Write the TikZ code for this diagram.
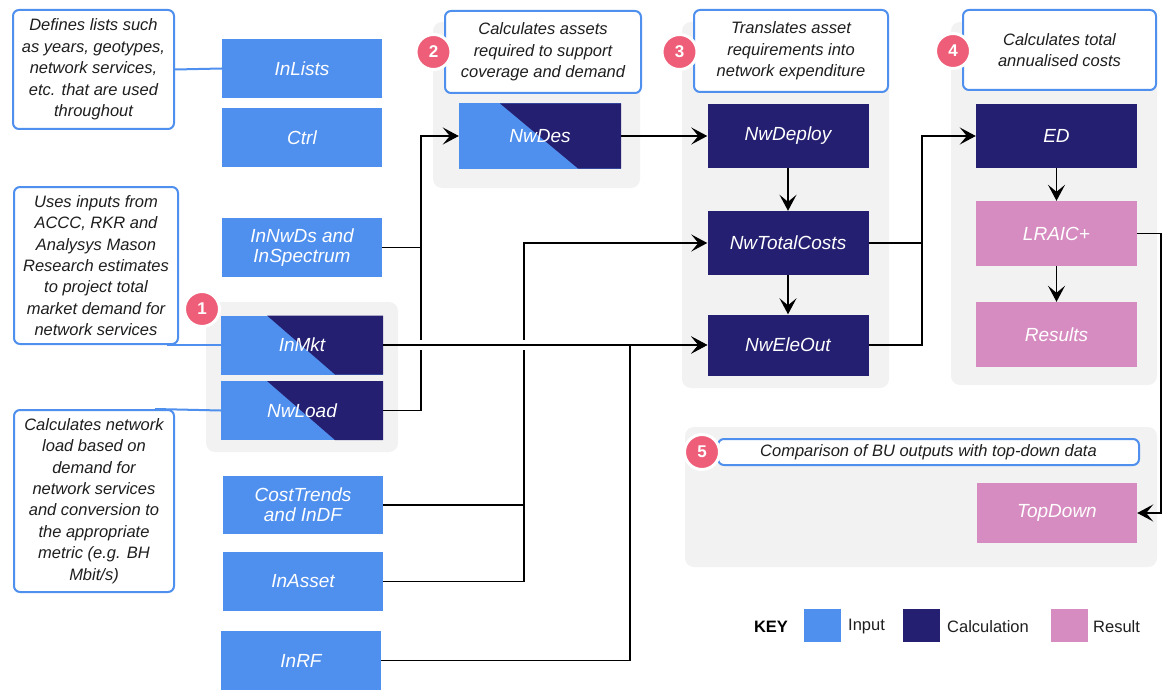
\documentclass[tikz,border=0pt]{standalone}
\usepackage{fontspec}
\setmainfont{Liberation Sans}
\usetikzlibrary{arrows.meta,calc}
\definecolor{inblue}{RGB}{79,143,238}
\definecolor{calcblue}{RGB}{36,31,112}
\definecolor{respink}{RGB}{214,140,192}
\definecolor{badgepink}{RGB}{238,94,120}
\definecolor{grp}{RGB}{242,242,242}
\definecolor{cborder}{RGB}{79,143,238}
\definecolor{txt}{RGB}{30,30,30}
\tikzset{
  box/.style={rectangle, inner sep=0pt, minimum width=160pt, minimum height=59pt, text=white, align=center, font=\fontsize{19}{20}\selectfont\itshape},
  inbox/.style={box, fill=inblue},
  calcbox/.style={box, fill=calcblue},
  resbox/.style={box, fill=respink},
  splitbox/.style 2 args={box, fill=inblue, path picture={\fill[calcblue] ([xshift=#1]path picture bounding box.north west) -- (path picture bounding box.north east) -- (path picture bounding box.south east) -- ([xshift=#2]path picture bounding box.south west) -- cycle;}},
  callout/.style={draw=cborder, line width=2pt, rounded corners=6pt, fill=white, inner sep=0pt, align=center, text=txt, font=\fontsize{16.5}{21.4}\selectfont\itshape},
  group/.style={fill=grp, rounded corners=9pt},
  badge/.style={circle, fill=badgepink, draw=white, line width=3pt, minimum size=35pt, inner sep=0pt, text=white, font=\fontsize{17}{17}\selectfont\bfseries},
  conn/.style={line width=1.6pt, -{Stealth[length=16pt,width=17pt,inset=7pt]}},
  link/.style={line width=1.6pt},
  note/.style={draw=cborder, line width=2pt},
  swatch/.style={rectangle, inner sep=0pt, minimum width=37pt, minimum height=33pt},
  keytext/.style={anchor=west, inner sep=0pt, text=txt, font=\fontsize{16.5}{18}\selectfont},
}
\begin{document}
\begin{tikzpicture}[x=1pt,y=-1pt]
\useasboundingbox (0,0) rectangle (1164,690);

% groups
\fill[group] (206,302) rectangle (398,452);
\fill[group] (433,22) rectangle (640,188);
\fill[group] (682,22) rectangle (889,388);
\fill[group] (951,22) rectangle (1157,385);
\fill[group] (685,427) rectangle (1157,567);

% callouts
\node[callout, minimum width=161pt, minimum height=119pt] (c1) at (93.5,69.5) {Defines lists such\\as years, geotypes,\\network services,\\etc. that are used\\throughout};
\node[callout, minimum width=164pt, minimum height=157pt] (c2) at (96,265.5) {Uses inputs from\\ACCC, RKR and\\Analysys Mason\\Research estimates\\to project total\\market demand for\\network services};
\node[callout, minimum width=160pt, minimum height=182pt] (c3) at (94,501) {Calculates network\\load based on\\demand for\\network services\\and conversion to\\the appropriate\\metric (e.g. BH\\Mbit/s)};
\node[callout, minimum width=196pt, minimum height=82pt] (s2) at (543,52) {Calculates assets\\required to support\\coverage and demand};
\node[callout, minimum width=194pt, minimum height=82pt] (s3) at (791,51) {Translates asset\\requirements into\\network expenditure};
\node[callout, minimum width=193pt, minimum height=80pt] (s4) at (1059.5,50) {Calculates total\\annualised costs};
\node[callout, minimum width=421pt, minimum height=26pt] (s5) at (928.5,452) {Comparison of BU outputs with top-down data};

% badges
\node[badge] (b1n) at (202,309) {1};
\node[badge] (b2n) at (433.5,52) {2};
\node[badge] (b3n) at (679.5,52) {3};
\node[badge] (b4n) at (953,51) {4};
\node[badge] (b5n) at (702,452) {5};

% boxes
\node[inbox] (inlists) at (302,68.5) {InLists};
\node[inbox] (ctrl) at (302,137.5) {Ctrl};
\node[inbox] (innwds) at (302,247.5) {InNwDs and\\InSpectrum};
\node[splitbox={46pt}{114pt}, minimum width=162pt] (inmkt) at (302,345) {InMkt};
\node[splitbox={46pt}{114pt}, minimum width=162pt] (nwload) at (302,410.5) {NwLoad};
\node[inbox, minimum height=58pt] (costtrends) at (303,505) {CostTrends\\and InDF};
\node[inbox] (inasset) at (303,581.5) {InAsset};
\node[inbox] (inrf) at (301,660.5) {InRF};

\node[splitbox={41pt}{119pt}, minimum width=162pt, minimum height=65pt] (nwdes) at (540,136) {NwDes};
\node[calcbox, minimum width=161pt, minimum height=64pt] (nwdeploy) at (788,136) {NwDeploy};
\node[calcbox, minimum width=161pt, minimum height=64pt] (nwtotal) at (788,243) {NwTotalCosts};
\node[calcbox, minimum width=161pt, minimum height=61pt] (nweleout) at (788,345) {NwEleOut};
\node[calcbox, minimum width=161pt, minimum height=64pt] (ed) at (1056.5,136) {ED};
\node[resbox, minimum width=161pt, minimum height=65pt] (lraic) at (1056.5,233.5) {LRAIC+};
\node[resbox, minimum width=161pt, minimum height=65pt] (results) at (1056.5,334.5) {Results};
\node[resbox, minimum width=160pt, minimum height=60pt] (topdown) at (1057,513) {TopDown};

% callout links
\draw[note] (c1.east) -- (inlists.west);
\draw[note] ([xshift=-12pt]c2.south east) -- (inmkt.west);
\draw[note] ([xshift=-20pt]c3.north east) -- (nwload.west);

% bus coordinates
\coordinate (bx1) at (421,0);
\coordinate (bx2) at (524,0);
\coordinate (bx3) at (630,0);
\coordinate (bx4) at (922,0);
\coordinate (bx5) at (1161,0);

% connectors
\draw[conn] (innwds.east) -- (bx1 |- innwds.east) -- (bx1 |- nwdes.west) -- (nwdes.west);
\draw[link] (nwload.east) -- (bx1 |- nwload.east) -- (bx1 |- innwds.east);
\draw[conn] (costtrends.east) -- (bx2 |- costtrends.east) -- (bx2 |- nwtotal.west) -- (nwtotal.west);
\draw[link] (inasset.east) -- (bx2 |- inasset.east) -- (bx2 |- costtrends.east);
% gaps at crossings
\fill[white] ($(bx1 |- inmkt.east)+(-4,-5)$) rectangle ($(bx1 |- inmkt.east)+(4,5)$);
\fill[white] ($(bx2 |- inmkt.east)+(-4,-5)$) rectangle ($(bx2 |- inmkt.east)+(4,5)$);
\draw[conn] (inmkt.east) -- (nweleout.west);
\draw[conn] (inrf.east) -- (bx3 |- inrf.east) -- (bx3 |- nweleout.west) -- (nweleout.west);

\draw[conn] (nwdes.east) -- (nwdeploy.west);
\draw[conn] (nwdeploy.south) -- (nwtotal.north);
\draw[conn] (nwtotal.south) -- (nweleout.north);
\draw[conn] (nwtotal.east) -- (bx4 |- nwtotal.east) -- (bx4 |- ed.west) -- (ed.west);
\draw[link] (nweleout.east) -- (bx4 |- nweleout.east) -- (bx4 |- nwtotal.east);
\draw[conn] (ed.south) -- (lraic.north);
\draw[conn] (lraic.south) -- (results.north);
\draw[conn] (lraic.east) -- (bx5 |- lraic.east) -- (bx5 |- topdown.east) -- (topdown.east);

% key
\node[inner sep=0pt, text=black, font=\fontsize{16.5}{18}\selectfont\bfseries] (key) at (771,627) {KEY};
\node[swatch, fill=inblue] (kin) at (822.5,625.5) {};
\node[keytext] (kint) at (848,627) {Input};
\node[swatch, fill=calcblue] (kcalc) at (921.5,625.5) {};
\node[keytext] (kcalct) at (947,627) {Calculation};
\node[swatch, fill=respink] (kres) at (1069.5,625.5) {};
\node[keytext] (krest) at (1093,627) {Result};
\end{tikzpicture}
\end{document}
